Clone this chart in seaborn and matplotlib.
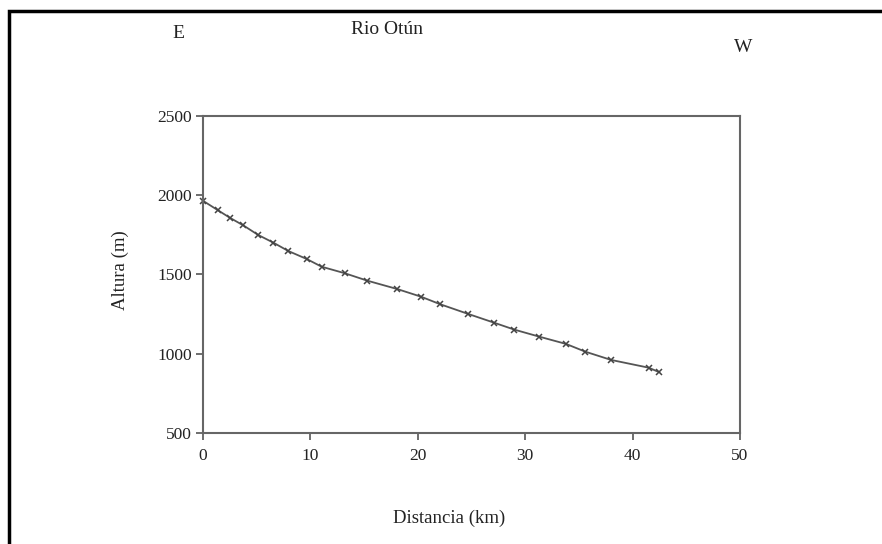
import matplotlib
matplotlib.use("Agg")
import matplotlib.pyplot as plt
import matplotlib.patches as mpatches
import seaborn as sns
import pandas as pd

# Data
distancia_km = [0.0, 1.4, 2.5, 3.75, 5.15, 6.55, 7.95, 9.65, 11.05, 13.2, 15.3,
                18.1, 20.3, 22.1, 24.7, 27.1, 29.0, 31.3, 33.8, 35.6, 38.0, 41.5, 42.5]
altura_m = [1965, 1905, 1858, 1810, 1749, 1701, 1648, 1598, 1549, 1508, 1461,
            1408, 1360, 1312, 1251, 1196, 1152, 1108, 1062, 1013, 961, 912, 883]
x_ticks = [0, 10, 20, 30, 40, 50]
y_ticks = [500, 1000, 1500, 2000, 2500]

sns.set_style("white")
plt.rcParams['font.family'] = ['Liberation Serif', 'DejaVu Serif']

df = pd.DataFrame({"Distancia (km)": distancia_km, "Altura (m)": altura_m})

fig = plt.figure(figsize=(8.82, 5.44), dpi=100)
ax = fig.add_axes([203 / 882, (544 - 433) / 544, (740 - 203) / 882, (433 - 116) / 544])

sns.lineplot(data=df, x="Distancia (km)", y="Altura (m)", ax=ax, color="#555555",
             linewidth=1.3, marker="x", markersize=4, markeredgewidth=1.1,
             markeredgecolor="#444444", clip_on=False, sort=False)

ax.set_xlim(0, 50)
ax.set_ylim(500, 2500)
ax.set_xticks(x_ticks)
ax.set_yticks(y_ticks)
ax.tick_params(axis="both", which="both", direction="out", length=5, width=1.2,
               colors="#555555", labelcolor="#222222", labelsize=12.5, pad=4,
               bottom=True, left=True, top=False, right=False)
ax.tick_params(axis="x", pad=6)
ax.tick_params(axis="y", pad=3)
for sp in ax.spines.values():
    sp.set_visible(True)
    sp.set_color("#666666")
    sp.set_linewidth(1.5)

ax.set_xlabel("")
ax.set_ylabel("")
fig.text(449 / 882, 1 - 518 / 544, "Distancia (km)", ha="center", va="center",
         fontsize=13.5, color="#222222")
fig.text(120 / 882, 1 - 270 / 544, "Altura (m)", ha="center", va="center",
         rotation=90, fontsize=13.5, color="#222222")

fig.text(178 / 882, 1 - 33 / 544, "E", ha="center", va="center", fontsize=14, color="#222222")
fig.text(387 / 882, 1 - 30 / 544, "Rio Otún", ha="center", va="center", fontsize=14, color="#222222")
fig.text(743 / 882, 1 - 47 / 544, "W", ha="center", va="center", fontsize=14, color="#222222")

# Outer black frame
frame = mpatches.Rectangle((9 / 882, -0.05), 1.1, 1 - 11 / 544 + 0.05,
                           transform=fig.transFigure, fill=False,
                           edgecolor="black", linewidth=2.5, clip_on=False)
fig.add_artist(frame)

fig.savefig("out.png", dpi=100)
